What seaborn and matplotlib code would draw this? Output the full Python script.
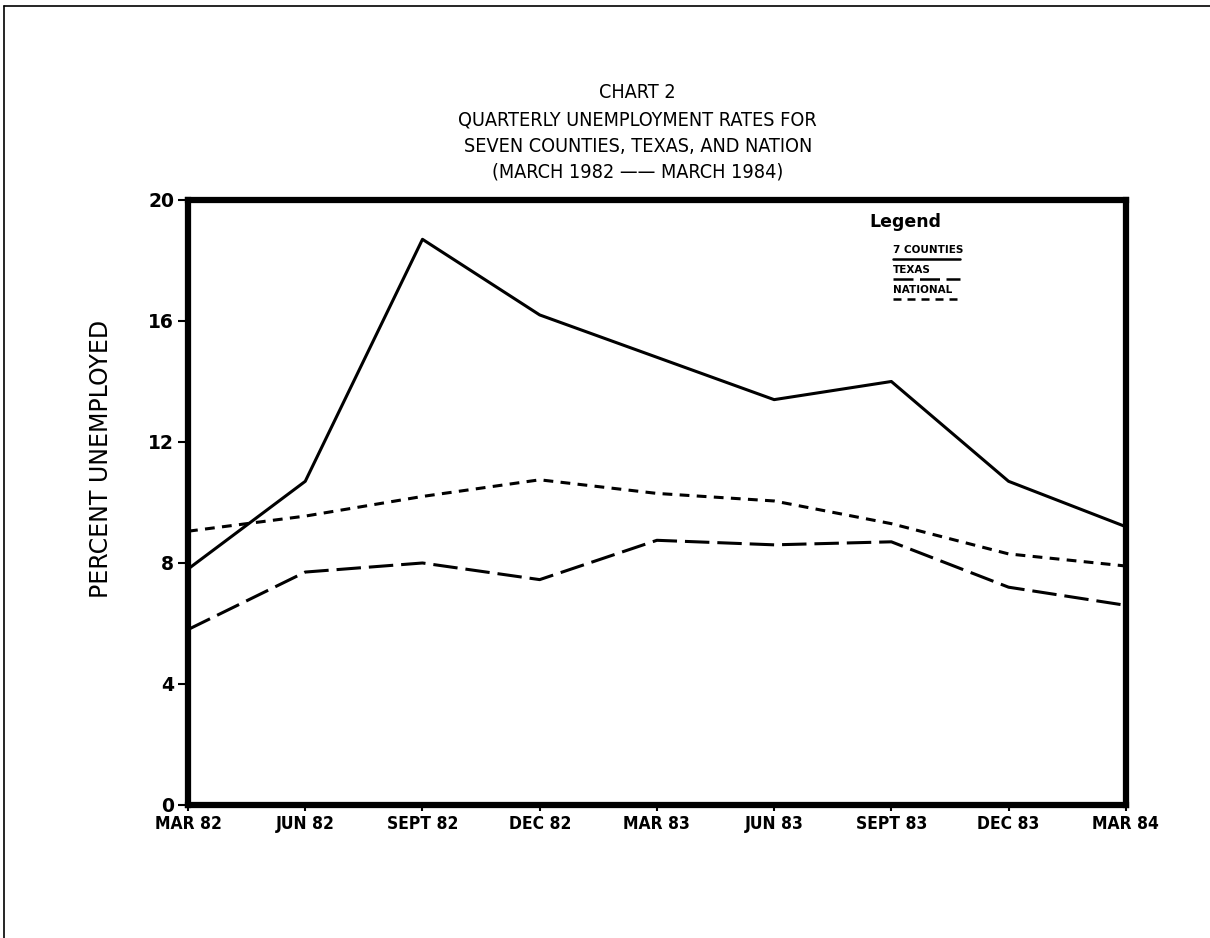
import pandas as pd
import matplotlib
matplotlib.use("Agg")
import matplotlib.pyplot as plt
from matplotlib.lines import Line2D
import seaborn as sns

# values
quarters = ["MAR 82", "JUN 82", "SEPT 82", "DEC 82", "MAR 83",
            "JUN 83", "SEPT 83", "DEC 83", "MAR 84"]
counties = [7.8, 10.7, 18.7, 16.2, 14.8, 13.4, 14.0, 10.7, 9.2]
texas = [5.8, 7.7, 8.0, 7.45, 8.75, 8.6, 8.7, 7.2, 6.6]
national = [9.05, 9.55, 10.2, 10.75, 10.3, 10.05, 9.3, 8.3, 7.9]
series_names = ["7 COUNTIES", "TEXAS", "NATIONAL"]
y_ticks = [0, 4, 8, 12, 16, 20]

sns.set_style("white")
plt.rcParams["font.family"] = ["DejaVu Sans"]
for key in ["text.color", "axes.labelcolor", "xtick.color", "ytick.color"]:
    plt.rcParams[key] = "black"

df = pd.DataFrame({
    "quarter": quarters * 3,
    "rate": counties + texas + national,
    "series": [s for s in series_names for _ in quarters],
})

fig = plt.figure(figsize=(12.1, 9.38), dpi=100)
ax = fig.add_axes([0.1554, 0.1418, 0.775, 0.645])

sns.lineplot(data=df, x="quarter", y="rate", hue="series", style="series",
             palette=["black"] * 3,
             dashes={"7 COUNTIES": "", "TEXAS": (8.0, 2.6), "NATIONAL": (3.2, 2.4)},
             linewidth=2.2, legend=False, ax=ax, sort=False)

ax.set_xlim(0, len(quarters) - 1)
ax.set_ylim(0, 20)
ax.set_yticks(y_ticks)
ax.set_yticklabels([str(t) for t in y_ticks], fontweight="bold", fontsize=13.5)
ax.set_xticks(range(len(quarters)))
ax.set_xticklabels(quarters, fontweight="bold", fontsize=12.5,
                   fontstretch="condensed")
ax.tick_params(axis="y", direction="out", length=7, width=1.5, pad=3, left=True)
ax.tick_params(axis="x", direction="out", length=4, width=1.5, pad=3, bottom=True)
ax.set_xlabel("")
ax.set_ylabel("PERCENT UNEMPLOYED", fontsize=17)
ax.yaxis.set_label_coords(-0.08, 0.572)
for sp in ax.spines.values():
    sp.set_visible(True)
    sp.set_linewidth(4.5)
    sp.set_color("black")

# hand-drawn style legend in the upper right
tr = ax.transAxes
ax.text(0.727, 0.964, "Legend", transform=tr, fontweight="bold",
        fontsize=12.5, va="center", ha="left")
entries = [("7 COUNTIES", "-", 0.917), ("TEXAS", (0, (8.0, 2.6)), 0.884),
           ("NATIONAL", (0, (3.2, 2.4)), 0.851)]
for label, ls, yy in entries:
    ax.text(0.752, yy, label, transform=tr, fontweight="bold", fontsize=7.5,
            va="center", ha="left")
    ax.plot([0.752, 0.823], [yy - 0.014, yy - 0.014], transform=tr,
            color="black", lw=1.8, linestyle=ls)

title_lines = ["CHART 2", "QUARTERLY UNEMPLOYMENT RATES FOR",
               "SEVEN COUNTIES, TEXAS, AND NATION", "(MARCH 1982 \u2014\u2014 MARCH 1984)"]
for i, line in enumerate(title_lines):
    fig.text(0.527, 1 - (93 + 26.5 * i) / 938, line, ha="center", va="center",
             fontsize=14.2, fontstretch="condensed")

# page border of the scanned sheet
fig.add_artist(Line2D([0.003, 1.0], [0.994, 0.994], color="black", lw=1.2))
fig.add_artist(Line2D([0.003, 0.003], [0.0, 0.994], color="black", lw=1.2))

fig.savefig("out.png", dpi=100)
plt.close(fig)
